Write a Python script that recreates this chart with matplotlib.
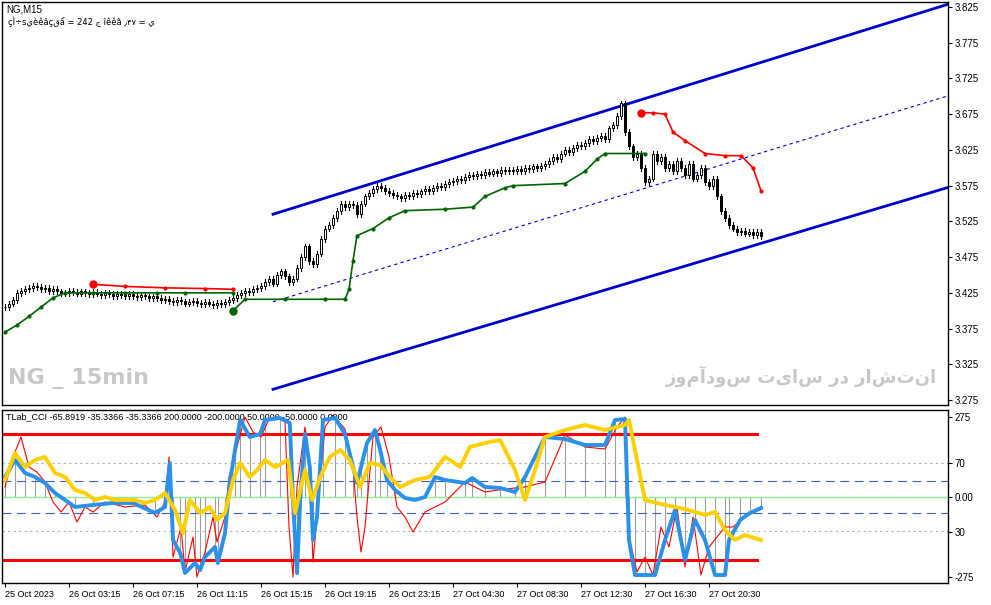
import numpy as np
import matplotlib
matplotlib.use("Agg")
import matplotlib.pyplot as plt

closes = [3.405,3.41,3.415,3.425,3.428,
 3.43,3.432,3.435,3.433,3.43,3.432,3.428,3.43,3.427,3.425,
 3.425,3.428,3.426,3.424,3.427,3.425,3.423,3.426,3.424,3.422,3.425,3.423,3.421,3.424,3.422,3.42,3.423,3.421,3.419,3.422,3.42,3.418,3.42,
 3.418,3.415,3.417,3.414,3.412,3.415,3.413,3.41,3.412,3.414,3.411,3.409,3.412,3.41,3.408,3.411,3.409,3.412,3.415,3.418,
 3.422,3.425,3.428,3.426,3.43,3.432,3.435,
 3.44,3.445,3.438,3.45,3.455,3.448,3.44,3.445,3.46,3.475,3.49,
 3.47,3.465,3.48,3.50,3.515,3.52,3.53,
 3.54,3.55,3.545,3.55,3.548,3.535,3.55,3.56,
 3.565,3.57,3.575,3.572,3.568,
 3.565,3.562,3.56,3.558,3.562,3.56,3.565,3.563,3.567,3.57,3.568,3.572,3.575,3.573,3.577,
 3.58,3.582,3.585,3.583,3.587,3.59,3.588,3.592,3.59,3.594,3.592,3.595,3.593,3.597,3.595,
 3.597,3.595,3.598,3.596,3.6,3.598,3.602,3.6,3.603,3.605,
 3.61,3.615,3.612,3.62,3.625,3.622,3.628,3.632,3.63,3.635,3.64,3.638,3.642,3.645,3.64,
 3.655,3.66,3.672,3.69,3.65,
 3.63,3.615,3.62,3.6,3.58,
 3.585,3.62,3.61,3.615,3.6,3.605,3.595,3.61,3.6,3.59,3.605,3.585,3.59,
 3.6,3.58,3.575,3.585,3.56,3.54,3.53,
 3.52,3.515,3.51,3.512,3.508,3.51,3.506,3.51,3.505]

# trailing stops (bar index, price)
green_bars = [0,3,6,9,12,15,22,30,38,45,57]
green_vals = [3.370,3.380,3.392,3.405,3.418,3.425,3.425,3.425,3.425,3.425,3.425]
green2_bars = [57,60,70,80,85,86,87,88,92,96,100,110,117,120,125,127,140,145,148,150,160]
green2_vals = [3.400,3.416,3.416,3.416,3.416,3.43,3.47,3.505,3.515,3.53,3.54,3.542,3.545,3.56,3.572,3.575,3.578,3.595,3.612,3.62,3.62]
red1_bars = [22,30,40,50,57]
red1_vals = [3.437,3.434,3.432,3.431,3.430]
red2_bars = [159,162,165,167,170,175,180,184,187,189]
red2_vals = [3.677,3.677,3.675,3.650,3.638,3.620,3.617,3.617,3.600,3.568]

chan_bars = [67, 245]
chan_upper = [3.535, 3.845]
chan_lower = [3.290, 3.588]
chan_mid = [3.4125, 3.7165]

price_ticks = [3.825,3.775,3.725,3.675,3.625,3.575,3.525,3.475,3.425,3.375,3.325,3.275]

# CCI panel values in display units
blue_bars = [0,2.5,5,7.5,10,12.5,15,17.5,22,27,32,37.5,40,41.2,42,43.8,45,47.5,48.8,50,52.5,53.2,55,56.2,57.5,58.8,61.2,63.8,65,68.8,71.2,72,73,73.8,75,76.2,77,78,79.5,82.5,85,87,88,89,90.5,92.5,93.8,95.5,97.5,100,102.5,105,107.5,110,115,116.8,120,123.8,127.5,130,135,140,145,150,152.5,155,156,157.5,160,162.5,165,167.5,170,172.5,175,177.5,180,181,183.8,186.2,189]
blue_vals = [20,37,24,20,14,4,-3,-10,-8,-6,-6,-16,-10,34,-43,-56,-76,-66,-73,-60,-50,-66,-36,14,47,77,60,63,77,79,74,-3,-76,-3,63,30,-43,-20,77,79,63,30,14,30,54,67,47,17,7,-1,-3,0,20,17,14,19,10,9,5,20,60,58,52,52,77,78,-43,-78,-78,-78,-43,-13,-63,-23,-43,-78,-78,-43,-23,-16,-11]
yellow_bars = [0,2.5,5,7.5,10,12.5,15,17.5,20,22.5,25,27.5,30,32.5,35,37.5,40,42.5,44.5,46.2,48.8,51.2,53,55,57,58.8,61.2,63,65,67.5,70.8,72.5,75,76.8,78.8,81.2,83.8,86.2,88.8,91.2,93.8,96.2,98.8,102.5,106.2,110,113.8,116.2,120,123.8,127.5,130,132.5,135,140,145,150,155,156,160,165,170,175,177.5,180,182.5,185,189]
yellow_vals = [17,44,30,37,40,24,20,7,4,-3,0,-3,-3,-3,-6,-3,4,-13,-36,-3,-16,-10,-23,-16,17,34,20,27,37,30,37,-16,27,-3,20,40,47,37,10,34,32,20,10,17,20,40,30,50,54,57,27,-3,27,60,67,72,67,72,77,-3,-8,-12,-18,-15,-33,-43,-38,-43]
red_bars = [0,2,4,6,8,10,12,14,16,18,20,22,25,30,35,38,40,41,42,44,45,47,48,50,52,53,55,56,58,60,62,64,66,68,70,71,72,73,75,76,77,78,80,82,85,87,88,89,90,92,94,96,98,100,102,105,110,115,120,125,130,135,140,145,150,153,155,156,158,160,162,164,166,168,170,172,174,176,178,180,182,185,189]
red_vals = [10,40,60,30,25,15,-5,-15,-5,-25,-10,-15,-5,-10,-8,-20,-5,40,-60,-30,-75,-40,-80,-55,-20,-45,-20,20,50,80,65,60,78,80,75,-30,-80,10,70,40,-65,-20,70,82,68,30,-20,-55,-30,60,70,40,-10,-20,-35,-15,-5,15,5,8,10,15,62,50,48,70,80,-40,-75,-60,-78,-30,-50,-10,-70,-20,-78,-50,-40,-30,-30,-20,-12]

date_labels = ["25 Oct 2023","26 Oct 03:15","26 Oct 07:15","26 Oct 11:15","26 Oct 15:15","26 Oct 19:15",
               "26 Oct 23:15","27 Oct 04:30","27 Oct 08:30","27 Oct 12:30","27 Oct 16:30","27 Oct 20:30"]
cci_tick_pos = [80, 34, 0, -35, -80]
cci_tick_lab = ["275", "70", "0.00", "30", "-275"]

plt.rcParams['font.family'] = ['Liberation Sans', 'DejaVu Sans']

W, H = 991, 605
fig = plt.figure(figsize=(W/100, H/100), dpi=100)
fig.patch.set_facecolor("white")
ax = fig.add_axes([2/W, 1-405/H, 946/W, 403/H])
ax2 = fig.add_axes([2/W, 1-583/H, 946/W, 173/H])
for a in (ax, ax2):
    a.set_xlim(-0.75, 235.75)
    for s in a.spines.values():
        s.set_color("black"); s.set_linewidth(1)
    a.tick_params(axis="y", left=False, labelleft=False, right=True, labelright=True,
                  labelsize=7, length=3, pad=2)
    a.tick_params(axis="x", labelsize=7, length=3, pad=2)

# candles
opens = [closes[0]] + closes[:-1]
for i, (o, c) in enumerate(zip(opens, closes)):
    hi = max(o, c) + 0.004
    lo = min(o, c) - 0.004
    ax.plot([i, i], [lo, hi], color="black", lw=0.8, zorder=3)
    h = max(abs(c - o), 0.0008)
    ax.bar(i, h, bottom=min(o, c), width=0.6,
           color=("white" if c >= o else "black"), edgecolor="black", lw=0.7, zorder=4)

ax.plot(chan_bars, chan_upper, color="#0000cc", lw=2, zorder=2)
ax.plot(chan_bars, chan_lower, color="#0000cc", lw=2, zorder=2)
ax.plot(chan_bars, chan_mid, color="#0000cc", lw=0.8, ls=(0, (3, 3)), zorder=2)

ax.plot(green_bars, green_vals, color="#006400", lw=1.2, marker="o", ms=2, zorder=5)
ax.plot(green2_bars, green2_vals, color="#006400", lw=1.2, marker="o", ms=2, zorder=5)
ax.plot(red1_bars, red1_vals, color="red", lw=1.2, marker="o", ms=2, zorder=5)
ax.plot(red2_bars, red2_vals, color="red", lw=1.2, marker="o", ms=2, zorder=5)
ax.plot(red1_bars[0], red1_vals[0], "o", color="red", ms=5, zorder=6)
ax.plot(red2_bars[0], red2_vals[0], "o", color="red", ms=5, zorder=6)
ax.plot(green2_bars[0], green2_vals[0], "o", color="#006400", ms=5, zorder=6)

ax.set_ylim(3.825 - 396/711, 3.825 + 5/711)
ax.set_yticks(price_ticks)
ax.set_yticklabels([f"{p:.3f}" for p in price_ticks])
ax.set_xticks([])

ax.text(0.004, 0.995, "NG,M15", transform=ax.transAxes, fontsize=7, va="top", ha="left")
ax.text(0.006, 0.965, "ي = ۷۴٫ ãêêî ج 242 = ẩقçâêèيs÷Ìç"[::-1], transform=ax.transAxes,
        fontsize=6, va="top", ha="left", family=["DejaVu Sans"])
ax.text(0.006, 0.04, "NG _ 15min", transform=ax.transAxes, fontsize=16, fontweight="bold",
        color="#c8c8c8", va="bottom", ha="left", family=["DejaVu Sans"])
ax.text(0.988, 0.045, "انتشار در سایت سودآموز"[::-1], transform=ax.transAxes, fontsize=13,
        fontweight="bold", color="#c8c8c8", va="bottom", ha="right", family=["DejaVu Sans"])

# CCI panel
for b, v in zip(blue_bars, blue_vals):
    ax2.plot([b, b], [0, v], color="#9aa29a", lw=0.8, zorder=1)
ax2.axhline(0, color="#90ee90", lw=1, zorder=1)
for yv in (34, -34):
    ax2.axhline(yv, color="#b0b0b0", lw=0.8, ls=(0, (2, 3)), zorder=1)
for yv in (16, -16):
    ax2.axhline(yv, color="#4060c0", lw=0.8, ls=(0, (8, 5)), zorder=1)
for yv in (63, -63):
    ax2.plot([-0.75, 188], [yv, yv], color="red", lw=2.2, zorder=2)
ax2.plot(red_bars, red_vals, color="red", lw=0.8, zorder=3)
ax2.plot(blue_bars, blue_vals, color="#2b90e8", lw=2.8, zorder=4)
ax2.plot(yellow_bars, yellow_vals, color="#ffd000", lw=2.8, zorder=5)
ax2.set_ylim(-86, 87)
ax2.set_yticks(cci_tick_pos)
ax2.set_yticklabels(cci_tick_lab)
ax2.set_xticks([16 * i for i in range(len(date_labels))])
ax2.set_xticklabels(date_labels, ha="left", fontsize=6.5)
ax2.text(0.004, 0.985, "TLab_CCI -65.8919 -35.3366 -35.3366 200.0000 -200.0000 50.0000 -50.0000 0.0000",
         transform=ax2.transAxes, fontsize=6.5, va="top", ha="left")

fig.savefig("out.png", dpi=100)
